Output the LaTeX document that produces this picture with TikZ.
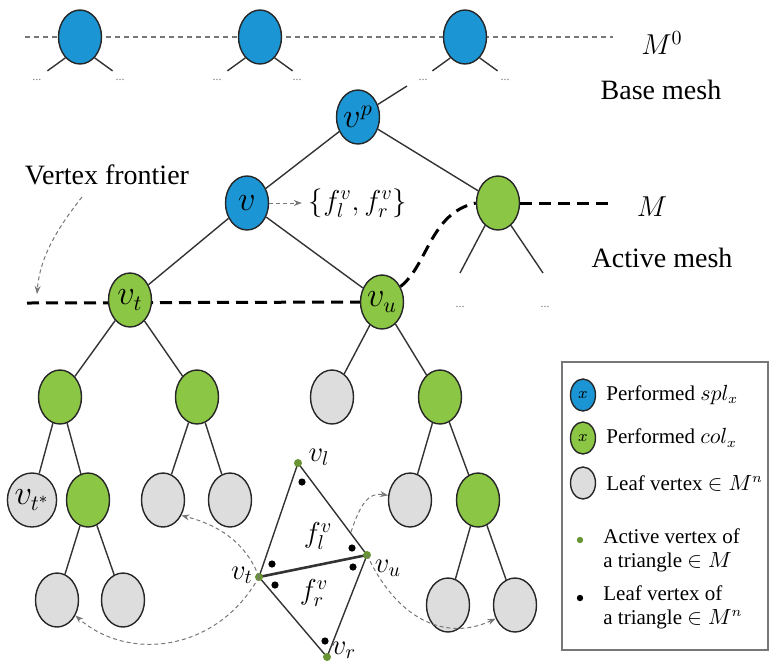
\documentclass[tikz,border=0pt]{standalone}
\usepackage{fontspec}
\setmainfont{Liberation Serif}
\usetikzlibrary{arrows.meta,backgrounds,shapes.geometric}
\definecolor{SplBlue}{HTML}{1B95D3}
\definecolor{ColGreen}{HTML}{8BC645}
\definecolor{LeafGrey}{HTML}{DDDDDD}
\definecolor{EdgeGrey}{HTML}{333333}
\definecolor{HintGrey}{HTML}{777777}

\begin{document}
\begin{tikzpicture}[x=0.5pt, y=-0.5pt, every node/.style={font=\fontsize{14}{16}\selectfont},
    vtx/.style={ellipse, draw=black!85, line width=0.7pt, minimum width=21.5pt, minimum height=27pt, inner sep=0pt, font=\fontsize{16}{18}\selectfont},
    splnode/.style={vtx, fill=SplBlue},
    colnode/.style={vtx, fill=ColGreen},
    leafnode/.style={vtx, fill=LeafGrey},
    keynode/.style={vtx, minimum width=12.5pt, minimum height=16pt, font=\fontsize{8}{8}\selectfont},
    edge/.style={EdgeGrey, line width=0.7pt},
    more/.style={HintGrey, font=\fontsize{6}{6}\selectfont, inner sep=0pt},
    frontier/.style={black, line width=1.5pt, dash pattern=on 6pt off 3.5pt},
    basedash/.style={HintGrey, line width=1pt, dash pattern=on 2.5pt off 2pt},
    hint/.style={HintGrey, line width=0.5pt, dash pattern=on 2pt off 1.5pt, -{Stealth[length=4pt, width=3pt]}},
    keytext/.style={anchor=west, align=left, font=\fontsize{10.5}{12}\selectfont, inner sep=0pt}]
  \useasboundingbox (0,0) rectangle (771,661);

  % base mesh M^0
  \node[splnode] (b1) at (80,37) {};
  \node[splnode] (b2) at (260,37) {};
  \node[splnode] (b3) at (465,37) {};
  \node[more] (b1l) at (37,80) {...};
  \node[more] (b1r) at (120,80) {...};
  \node[more] (b2l) at (217,80) {...};
  \node[more] (b2r) at (297,80) {...};
  \node[more] (b3l) at (423,80) {...};
  \node[more] (b3r) at (505,80) {...};
  \coordinate (baseL) at (25,37);
  \coordinate (baseR) at (613,37);
  \node (m0) at (662,43) {$M^0$};
  \node (base) at (661,90) {Base mesh};

  % vertex hierarchy
  \node[splnode] (vp) at (358,117) {$v^p$};
  \node[splnode] (v) at (247,203) {$v$};
  \node[colnode] (vr) at (498,203) {};
  \node[colnode] (vt) at (130,300) {$v_t$};
  \node[colnode] (vu) at (382,302) {$v_u$};
  \node[colnode] (c1) at (60,397) {};
  \node[colnode] (c2) at (197,397) {};
  \node[leafnode] (c3) at (332,397) {};
  \node[colnode] (c4) at (440,397) {};
  \node[leafnode] (d1) at (32,500) {$v_{t^*}$};
  \node[colnode] (d2) at (88,500) {};
  \node[leafnode] (d3) at (163,500) {};
  \node[leafnode] (d4) at (230,500) {};
  \node[leafnode] (d5) at (410,500) {};
  \node[colnode] (d6) at (478,500) {};
  \node[leafnode] (e1) at (57,600) {};
  \node[leafnode] (e2) at (123,600) {};
  \node[leafnode] (e3) at (448,605) {};
  \node[leafnode] (e4) at (515,605) {};
  \coordinate (vpup) at (407,86);
  \coordinate (vrl) at (460,273);
  \coordinate (vrr) at (543,273);
  \node[more] (vrld) at (460,307) {...};
  \node[more] (vrrd) at (545,307) {...};

  \node (fset) at (358,203) {$\{f_l^v, f_r^v\}$};
  \node (vf) at (107,175) {Vertex frontier};
  \coordinate (vfend) at (37,294);
  \coordinate (frontL) at (27,303);
  \coordinate (frontR) at (610,203);
  \node (m) at (652,207) {$M$};
  \node (active) at (662,258) {Active mesh};

  \begin{scope}[on background layer]
    \draw[basedash] (baseL) -- (baseR);
    \draw[frontier] (frontL) -- (vu.west);
  \end{scope}
  \draw[frontier] (vu.40) .. controls (428,265) and (430,213) .. (vr.west);
  \draw[frontier] (vr.east) -- (frontR);

  \draw[edge] (b1.235) -- ++(-18,13);
  \draw[edge] (b1.-55) -- ++(18,13);
  \draw[edge] (b2.235) -- ++(-18,13);
  \draw[edge] (b2.-55) -- ++(18,13);
  \draw[edge] (b3.235) -- ++(-18,13);
  \draw[edge] (b3.-55) -- ++(18,13);
  \draw[edge] (vp) -- (vpup);
  \draw[edge] (vp) -- (v);
  \draw[edge] (vp) -- (vr);
  \draw[edge] (vr.240) -- (vrl);
  \draw[edge] (vr.-60) -- (vrr);
  \draw[edge] (v) -- (vt);
  \draw[edge] (v) -- (vu);
  \draw[edge] (vt) -- (c1);
  \draw[edge] (vt) -- (c2);
  \draw[edge] (vu) -- (c3);
  \draw[edge] (vu) -- (c4);
  \draw[edge] (c1) -- (d1);
  \draw[edge] (c1) -- (d2);
  \draw[edge] (c2) -- (d3);
  \draw[edge] (c2) -- (d4);
  \draw[edge] (d2) -- (e1);
  \draw[edge] (d2) -- (e2);
  \draw[edge] (c4) -- (d5);
  \draw[edge] (c4) -- (d6);
  \draw[edge] (d6) -- (e3);
  \draw[edge] (d6) -- (e4);

  \draw[hint] (v.east) -- (fset.west);
  \draw[hint] (82,197) .. controls (60,225) and (40,255) .. (vfend);

  % split triangles f_l^v, f_r^v
  \coordinate (tl) at (298,463);
  \coordinate (tt) at (259,577);
  \coordinate (tu) at (367,555);
  \coordinate (tr) at (327,657);
  \coordinate (tlu) at (351,532);
  \draw[edge] (tt) -- (tl) -- (tu) -- (tr) -- cycle;
  \draw[EdgeGrey, line width=1.3pt] (tt) -- (tu);
  \foreach \p in {tl,tt,tu,tr} \fill[ColGreen!75!black] (\p) circle (2pt);
  \fill (302,482) circle (1.8pt);
  \fill (272,564) circle (1.8pt);
  \fill (275,585) circle (1.8pt);
  \fill (352,548) circle (1.8pt);
  \fill (353,567) circle (1.8pt);
  \fill (325,641) circle (1.8pt);
  \node (lvl) at (319,457) {$v_l$};
  \node (lvt) at (242,575) {$v_t$};
  \node (lvu) at (388,568) {$v_u$};
  \node (lvr) at (344,650) {$v_r$};
  \node (fl) at (318,536) {$f_l^v$};
  \node (fr) at (314,593) {$f_r^v$};

  \draw[hint] (tt) .. controls (245,540) and (215,524) .. (d3.-40);
  \draw[hint] (tt) .. controls (215,655) and (125,660) .. (e1.-40);
  \draw[hint] (tlu) .. controls (360,505) and (368,492) .. (d5.168);
  \draw[hint] (tu) .. controls (400,625) and (450,640) .. (e4.215);

  % legend
  \draw[HintGrey, line width=0.8pt] (562,362) rectangle (768,650);
  \node[keynode, fill=SplBlue] (kspl) at (583,395) {$x$};
  \node[keynode, fill=ColGreen] (kcol) at (583,438) {$x$};
  \node[keynode, fill=LeafGrey] (kleaf) at (583,483) {};
  \fill[ColGreen!75!black] (580,540) circle (1.6pt);
  \fill (580,598) circle (1.6pt);
  \node[keytext] (tspl) at (606,395) {Performed $spl_x$};
  \node[keytext] (tcol) at (606,438) {Performed $col_x$};
  \node[keytext] (tleaf) at (606,483) {Leaf vertex $\in M^n$};
  \node[keytext] (tact) at (603,550) {Active vertex of\\a triangle $\in M$};
  \node[keytext] (tlv) at (603,607) {Leaf vertex of\\a triangle $\in M^n$};
\end{tikzpicture}
\end{document}
